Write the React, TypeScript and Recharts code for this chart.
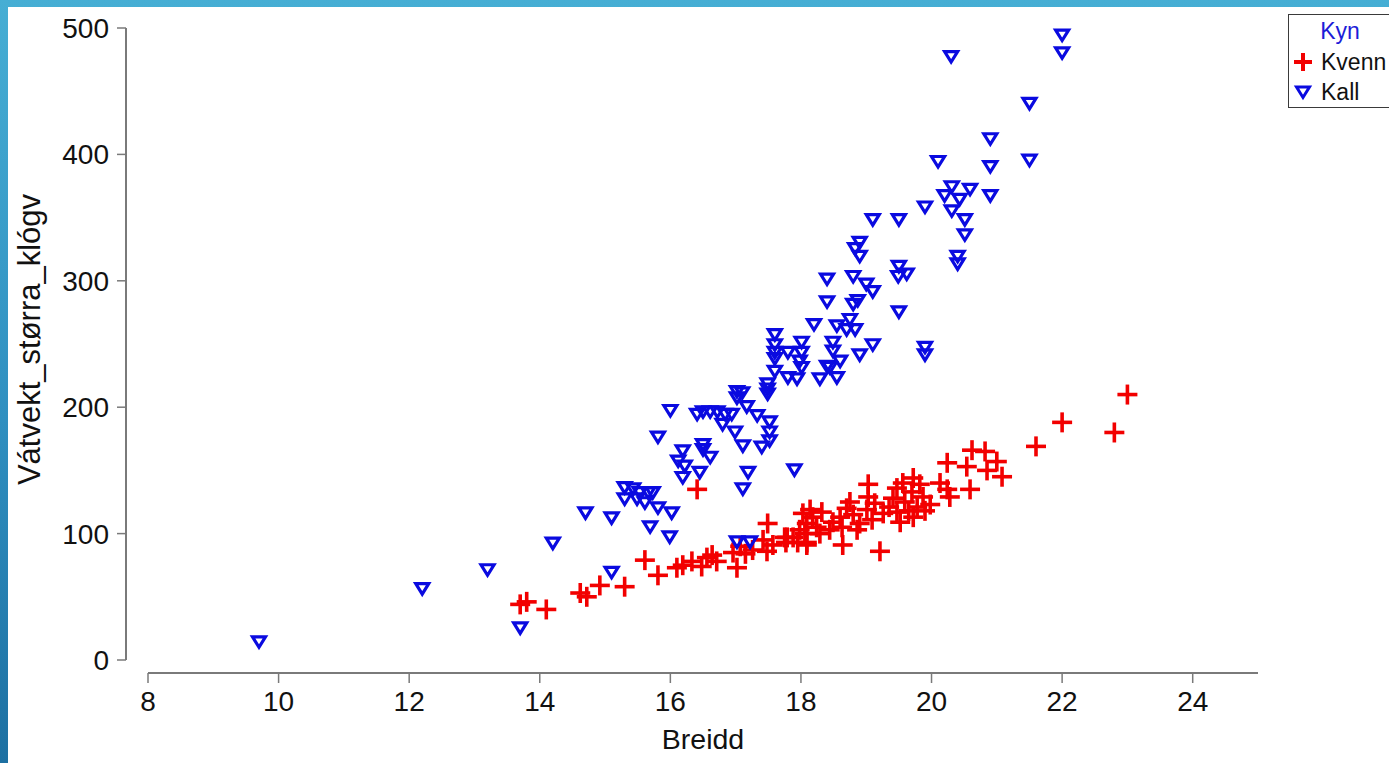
import { ScatterChart, Scatter, XAxis, YAxis, ReferenceLine, Legend } from "recharts"

const FONT = "'Liberation Sans', Arial, sans-serif"

const xTicks = [8, 10, 12, 14, 16, 18, 20, 22, 24]
const yTicks = [0, 100, 200, 300, 400, 500]
const legendOrder = ["Kvenn", "Kall"]

// Breidd, Vátvekt_størra_klógv
const kvenn: [number, number][] = [
  [13.7, 44], [13.8, 46], [14.1, 40], [14.62, 53], [14.72, 50], [14.92, 59],
  [15.3, 58], [15.61, 79], [15.81, 67], [16.1, 73], [16.19, 75], [16.33, 78],
  [16.48, 74], [16.56, 81], [16.64, 83], [16.71, 78], [16.41, 135], [16.96, 85],
  [17.02, 73], [17.07, 90], [17.15, 84], [17.26, 87], [17.42, 95], [17.49, 108],
  [17.48, 86], [17.57, 91], [17.79, 97], [18.03, 116], [18.09, 93], [17.98, 103],
  [17.75, 97], [17.77, 93], [17.88, 97], [17.95, 93], [18.06, 100], [18.09, 91],
  [18.09, 108], [18.14, 119], [18.18, 113], [18.24, 105], [18.29, 100], [18.32, 117],
  [18.44, 103], [18.49, 109], [18.6, 113], [18.63, 105], [18.64, 91], [18.7, 120],
  [18.75, 125], [18.8, 115], [18.86, 103], [18.9, 108], [19.01, 119], [19.03, 139],
  [19.03, 129], [19.09, 111], [19.13, 124], [19.21, 86], [19.26, 116], [19.35, 121],
  [19.41, 128], [19.47, 136], [19.47, 117], [19.52, 109], [19.56, 140], [19.59, 125],
  [19.65, 118], [19.7, 133], [19.72, 144], [19.72, 113], [19.78, 121], [19.82, 139],
  [19.87, 129], [19.9, 118], [19.98, 123], [20.13, 140], [20.24, 156], [20.24, 135],
  [20.28, 129], [20.54, 153], [20.59, 135], [20.62, 166], [20.82, 165], [20.85, 150],
  [21.0, 157], [21.08, 145], [21.6, 169], [22.0, 188], [22.8, 180], [23.0, 210],
]

const kall: [number, number][] = [
  [9.7, 14], [12.2, 56], [13.2, 71], [13.7, 25], [14.2, 92], [14.7, 116],
  [15.1, 112], [15.1, 69], [15.3, 136], [15.43, 135], [15.53, 132], [15.66, 132],
  [15.73, 132], [15.3, 127], [15.49, 127], [15.61, 124], [15.81, 120], [16.02, 116],
  [15.69, 105], [15.99, 97], [15.81, 176], [16.0, 197], [16.19, 165], [16.12, 157],
  [16.22, 153], [16.5, 170], [16.5, 166], [16.61, 160], [16.45, 148], [16.19, 144],
  [16.41, 194], [16.5, 196], [16.61, 196], [16.72, 196], [16.84, 194], [16.94, 194],
  [16.8, 186], [16.99, 180], [17.11, 169], [17.19, 148], [17.11, 135], [17.02, 212],
  [17.1, 211], [17.02, 207], [17.17, 200], [17.33, 193], [17.52, 188], [17.52, 180],
  [17.52, 173], [17.4, 168], [17.49, 218], [17.49, 214], [17.49, 210], [17.02, 93],
  [17.22, 93], [17.6, 257], [17.6, 249], [17.6, 243], [17.6, 238], [17.6, 228],
  [17.8, 243], [17.8, 223], [17.94, 222], [17.98, 236], [18.01, 251], [18.01, 243],
  [18.01, 231], [17.9, 150], [18.2, 265], [18.29, 222], [18.4, 232], [18.44, 231],
  [18.4, 283], [18.4, 301], [18.49, 251], [18.49, 244], [18.55, 264], [18.55, 223],
  [18.6, 236], [18.7, 261], [18.75, 269], [18.8, 281], [18.8, 303], [18.83, 261],
  [18.83, 325], [18.87, 284], [18.9, 330], [18.9, 319], [18.9, 241], [19.0, 297],
  [19.1, 291], [19.1, 249], [19.1, 348], [19.5, 348], [19.5, 311], [19.49, 303],
  [19.62, 305], [19.5, 275], [19.9, 358], [19.9, 247], [19.9, 241], [20.1, 394],
  [20.2, 367], [20.31, 374], [20.31, 355], [20.43, 364], [20.51, 348], [20.51, 336],
  [20.59, 372], [20.4, 319], [20.4, 313], [20.3, 477], [20.9, 412], [20.9, 390],
  [20.9, 367], [21.5, 440], [21.5, 395], [22.0, 494], [22.0, 480],
]

const W = 1389
const H = 763
const MARGIN = { top: 28, right: 131, bottom: 0, left: 0 }
const Y_AXIS_W = 126
const X_AXIS_H = 90
const GAP_X = 22 // y axis sits left of the x range
const GAP_Y = 13 // x axis sits below the y range
const X_MIN = 8
const X_MAX = 25
const Y_MIN = 0
const Y_MAX = 500

const plotW = W - MARGIN.left - MARGIN.right - Y_AXIS_W - GAP_X
const plotH = H - MARGIN.top - MARGIN.bottom - X_AXIS_H - GAP_Y
const yAxisAt = X_MIN - (GAP_X * (X_MAX - X_MIN)) / plotW
const xAxisAt = Y_MIN - (GAP_Y * (Y_MAX - Y_MIN)) / plotH

const RED = "#f20000"
const BLUE = "#0a0ae0"
const AXIS = "#7a7a7a"

const toPoints = (arr: [number, number][]) => arr.map(([x, y]) => ({ x, y }))

function Cross(props: any) {
  const { cx, cy } = props
  if (cx == null || cy == null) return null
  return (
    <g stroke={RED} strokeWidth={3.6}>
      <line x1={cx - 10} x2={cx + 10} y1={cy} y2={cy} />
      <line x1={cx} x2={cx} y1={cy - 10} y2={cy + 10} />
    </g>
  )
}

function DownTriangle(props: any) {
  const { cx, cy } = props
  if (cx == null || cy == null) return null
  return (
    <path
      d={`M${cx - 6.5},${cy - 5.5}L${cx + 6.5},${cy - 5.5}L${cx},${cy + 5}Z`}
      fill="none"
      stroke={BLUE}
      strokeWidth={3.2}
    />
  )
}

function LegendIcon({ name }: { name: string }) {
  if (name === "Kvenn") {
    return (
      <g stroke={RED} strokeWidth={4}>
        <line x1={1} x2={19} y1={10} y2={10} />
        <line x1={10} x2={10} y1={1} y2={19} />
      </g>
    )
  }
  return <path d="M3.5,5L16.5,5L10,15.5Z" fill="none" stroke={BLUE} strokeWidth={3} />
}

function LegendBox({ payload }: any) {
  const items = [...(payload || [])].sort(
    (a: any, b: any) => legendOrder.indexOf(a.value) - legendOrder.indexOf(b.value)
  )
  return (
    <div
      style={{
        boxSizing: "border-box",
        width: 104,
        height: 94,
        border: "1.5px solid #3a3a3a",
        background: "#fff",
        fontFamily: FONT,
        fontSize: 23,
      }}
    >
      <div style={{ textAlign: "center", color: "#1d1dd8", lineHeight: "32px" }}>Kyn</div>
      {items.map((entry: any) => (
        <div key={entry.value} style={{ display: "flex", alignItems: "center", height: 30, color: "#111" }}>
          <svg width={20} height={20} style={{ marginLeft: 4, flex: "none" }}>
            <LegendIcon name={entry.value} />
          </svg>
          <span style={{ marginLeft: 8, whiteSpace: "nowrap" }}>{entry.value}</span>
        </div>
      ))}
    </div>
  )
}

export default function App() {
  return (
    <div
      style={{
        position: "fixed",
        left: 0,
        top: 0,
        width: W,
        height: H,
        overflow: "hidden",
        background: "linear-gradient(to bottom, #46aed4 0%, #2f8fc0 55%, #1d70a2 100%)",
      }}
    >
      <div style={{ position: "absolute", left: 8, top: 7, right: 0, bottom: 0, background: "#fff" }} />
      <div style={{ position: "absolute", left: 0, top: 0 }}>
        <ScatterChart width={W} height={H} margin={MARGIN}>
          <XAxis
            type="number"
            dataKey="x"
            domain={[X_MIN, X_MAX]}
            ticks={xTicks}
            allowDataOverflow
            padding={{ left: GAP_X, right: 0 }}
            height={X_AXIS_H}
            axisLine={false}
            tickLine={{ stroke: AXIS, strokeWidth: 1.5 }}
            tickSize={10}
            tickMargin={8}
            tick={{ fontSize: 28, fill: "#111", fontFamily: FONT }}
            label={{
              value: "Breidd",
              position: "insideBottom",
              offset: 14,
              dx: 11,
              style: { fontSize: 28.5, fill: "#111", fontFamily: FONT },
            }}
          />
          <YAxis
            type="number"
            dataKey="y"
            domain={[Y_MIN, Y_MAX]}
            ticks={yTicks}
            allowDataOverflow
            padding={{ top: 0, bottom: GAP_Y }}
            width={Y_AXIS_W}
            axisLine={false}
            tickLine={{ stroke: AXIS, strokeWidth: 1.5 }}
            tickSize={9}
            tickMargin={8}
            tick={{ fontSize: 28, fill: "#111", fontFamily: FONT }}
            label={{
              value: "Vátvekt_størra_klógv",
              angle: -90,
              position: "insideLeft",
              offset: 29,
              dy: -11,
              style: { fontSize: 31, fill: "#111", fontFamily: FONT, textAnchor: "middle" },
            }}
          />
          <ReferenceLine
            segment={[
              { x: X_MIN, y: xAxisAt },
              { x: X_MAX, y: xAxisAt },
            ]}
            ifOverflow="visible"
            stroke={AXIS}
            strokeWidth={2}
          />
          <ReferenceLine
            segment={[
              { x: yAxisAt, y: Y_MIN },
              { x: yAxisAt, y: Y_MAX },
            ]}
            ifOverflow="visible"
            stroke={AXIS}
            strokeWidth={2}
          />
          <Legend
            layout="vertical"
            align="center"
            verticalAlign="middle"
            wrapperStyle={{ left: 1288, top: 14, width: 104, height: 94 }}
            content={LegendBox}
          />
          <Scatter name="Kvenn" data={toPoints(kvenn)} fill={RED} shape={Cross} isAnimationActive={false} />
          <Scatter name="Kall" data={toPoints(kall)} fill={BLUE} shape={DownTriangle} isAnimationActive={false} />
        </ScatterChart>
      </div>
    </div>
  )
}
